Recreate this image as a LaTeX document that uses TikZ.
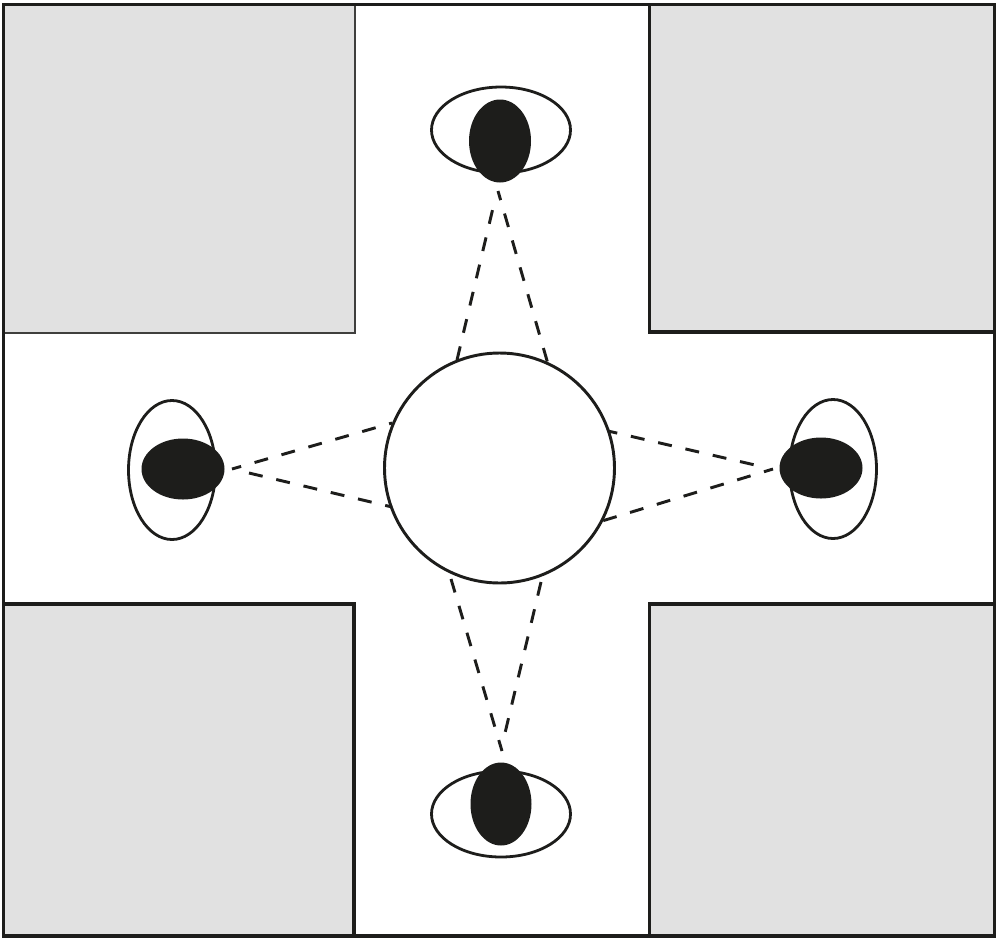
\documentclass[tikz,border=0pt]{standalone}
\definecolor{blockgray}{HTML}{E1E1E1}
\definecolor{ink}{HTML}{1D1D1B}
\tikzset{
  block/.style={draw=ink,fill=blockgray,line width=2.5pt},
  thinblock/.style={draw=ink!85,fill=blockgray,line width=0.8pt},
  eyeline/.style={draw=ink,fill=white,line width=2.1pt},
  pupil/.style={draw=none,fill=ink},
  sight/.style={draw=ink,line width=2.2pt,dash pattern=on 10.5pt off 10.5pt},
  sightp/.style={sight,dash phase=3.4pt},
  frameline/.style={draw=ink,line width=2.4pt},
}
\begin{document}
\begin{tikzpicture}[x=0.75pt,y=-0.75pt]
\useasboundingbox (0,0) rectangle (1000,940);
\fill[white] (0,0) rectangle (1000,940);
\draw[thinblock] (3.5,4.5) rectangle (355,333);
\draw[block] (649.5,4.5) rectangle (994.5,332);
\draw[block] (3.5,604) rectangle (354,936);
\draw[block] (649.5,604) rectangle (994.5,936);
\draw[frameline] (3.5,4.5) rectangle (994.5,936);
% eyes
\draw[eyeline] (501,130) ellipse (69.5 and 43);
\fill[pupil] (500,141) ellipse (31 and 41.5);
\draw[eyeline] (501,814) ellipse (69.5 and 43);
\fill[pupil] (501,804) ellipse (30.5 and 41.5);
\draw[eyeline] (172,470) ellipse (43.5 and 69.5);
\fill[pupil] (183,469) ellipse (41.5 and 30.5);
\draw[eyeline] (833,469) ellipse (43.5 and 69.5);
\fill[pupil] (821,468) ellipse (41.5 and 30.5);
% sight-line ends
\coordinate (tl1) at (493,208);
\coordinate (tl2) at (457,360);
\coordinate (tr1) at (498,191);
\coordinate (tr2) at (548,364);
\coordinate (bl1) at (451,579);
\coordinate (bl2) at (502,751);
\coordinate (br1) at (541,582);
\coordinate (br2) at (505,733);
\coordinate (lu1) at (232,469);
\coordinate (lu2) at (392,423);
\coordinate (ll1) at (249,473);
\coordinate (ll2) at (392,507);
\coordinate (ru1) at (608,431);
\coordinate (ru2) at (755,465);
\coordinate (rl1) at (773,469);
\coordinate (rl2) at (602,521);
\draw[sight] (tl2) -- (tl1);
\draw[sightp] (tr1) -- (tr2);
\draw[sight] (bl1) -- (bl2);
\draw[sight] (br1) -- (br2);
\draw[sightp] (lu1) -- (lu2);
\draw[sight] (ll1) -- (ll2);
\draw[sightp] (ru1) -- (ru2);
\draw[sightp] (rl1) -- (rl2);
% target
\node[circle,draw=ink,fill=white,line width=2.2pt,minimum size=172.5pt,inner sep=0pt] (target) at (499.5,468) {};
\end{tikzpicture}
\end{document}
